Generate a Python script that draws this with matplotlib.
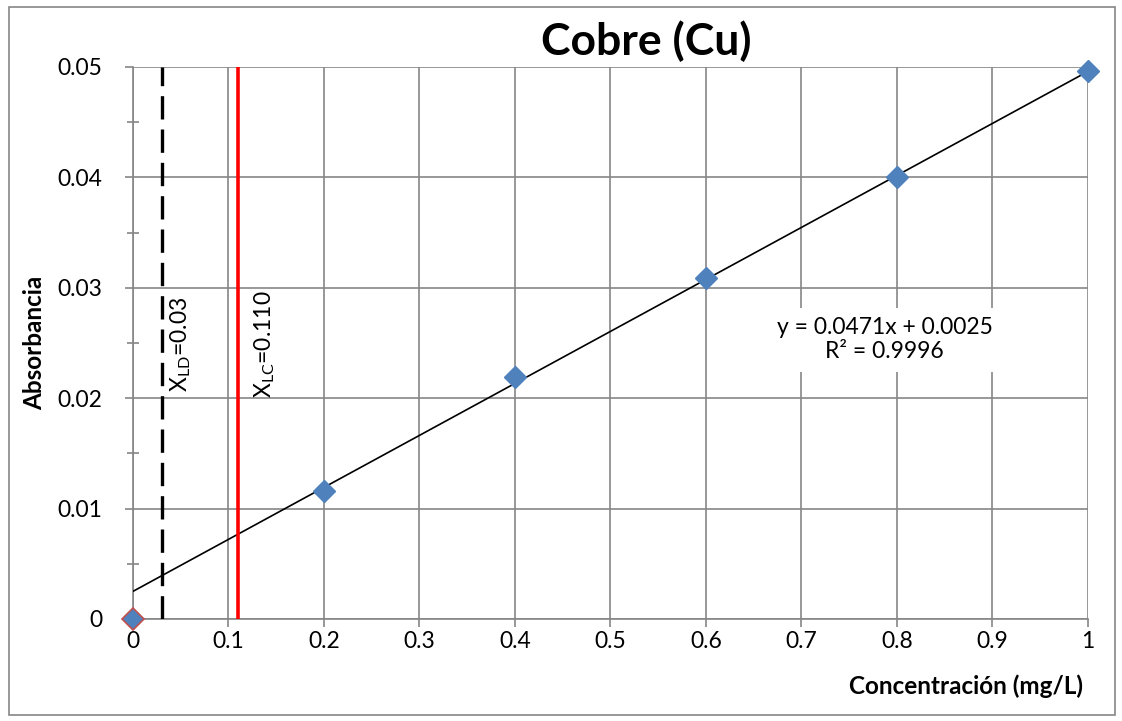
# Curva de calibracion - Cobre (Cu)
import numpy as np
import matplotlib.pyplot as plt
from matplotlib.patches import Rectangle
from matplotlib.ticker import MultipleLocator

plt.rcParams['font.family'] = ['Lato', 'DejaVu Sans']
plt.rcParams['mathtext.fontset'] = 'custom'
plt.rcParams['mathtext.rm'] = 'Lato'

# Datos
conc = [0, 0.2, 0.4, 0.6, 0.8, 1.0]
absorb = [0.0, 0.0116, 0.0219, 0.0309, 0.0400, 0.0496]
slope = 0.0471
intercept = 0.0025
r2 = 0.9996
x_ld = 0.03
x_lc = 0.110

grey = '#868686'
blue = '#4F81BD'

fig = plt.figure(figsize=(11.22, 7.21), dpi=100)
ax = fig.add_axes([0.1185, 0.1415, 0.8512, 0.7656])

# borde exterior
fig.patches.append(Rectangle((0.008, 0.008), 0.986, 0.982, transform=fig.transFigure,
                             fill=False, edgecolor=grey, lw=1.2))

# linea de tendencia
xfit = np.array([0, 1.0])
ax.plot(xfit, slope * xfit + intercept, color='black', lw=1.2, zorder=3)

# limites
ld, = ax.plot([x_ld, x_ld], [0, 0.05], color='black', lw=2.4, zorder=3)
ld.set_dashes((7, 3))
ax.plot([x_lc, x_lc], [0, 0.05], color='red', lw=2.6, zorder=3)

# puntos
ax.plot(conc[1:], absorb[1:], 'D', color=blue, ms=11, zorder=4, clip_on=False)
ax.plot(conc[:1], absorb[:1], 'D', color=blue, mec='#C0504D', mew=1.2, ms=11,
        zorder=4, clip_on=False)

ax.set_xlim(0, 1)
ax.set_ylim(0, 0.05)
ax.yaxis.set_minor_locator(MultipleLocator(0.005))
ax.set_xticks([0, 0.1, 0.2, 0.3, 0.4, 0.5, 0.6, 0.7, 0.8, 0.9, 1])
ax.set_xticklabels(['0', '0.1', '0.2', '0.3', '0.4', '0.5', '0.6', '0.7', '0.8', '0.9', '1'])
ax.set_yticks([0, 0.01, 0.02, 0.03, 0.04, 0.05])
ax.set_yticklabels(['0', '0.01', '0.02', '0.03', '0.04', '0.05'])

ax.grid(True, which='major', color=grey, lw=1.2)
ax.set_axisbelow(True)
for s in ['top', 'right']:
    ax.spines[s].set_visible(False)
for s in ['left', 'bottom']:
    ax.spines[s].set_color(grey)
    ax.spines[s].set_linewidth(1.2)

ax.tick_params(axis='both', which='major', color=grey, width=1.2, length=6,
               labelsize=16.5)
ax.tick_params(axis='y', which='major', pad=16)
ax.tick_params(axis='x', which='major', pad=3)
ax.tick_params(axis='y', which='minor', color=grey, width=1.2, length=8, direction='inout')

fig.text(0.5758, 0.943, 'Cobre (Cu)', fontsize=32, fontweight='bold',
         ha='center', va='center')
fig.text(0.031, 0.524, 'Absorbancia', fontsize=17.5, fontweight='bold',
         rotation=90, ha='center', va='center')
fig.text(0.9652, 0.0485, 'Concentración (mg/L)', fontsize=17.5, fontweight='bold',
         ha='right', va='center')

ax.text(0.0503, 0.0249, r'X$_{\mathrm{LD}}$=0.03', rotation=90, fontsize=16.5,
        ha='center', va='center')
ax.text(0.138, 0.0249, r'X$_{\mathrm{LC}}$=0.110', rotation=90, fontsize=16.5,
        ha='center', va='center')

ax.text(0.787, 0.0253, 'y = %.4fx + %.4f\nR² = %.4f' % (slope, intercept, r2),
        fontsize=16.5, ha='center', va='center', linespacing=1.15,
        bbox=dict(facecolor='white', edgecolor='none', pad=7))

fig.savefig('out.png', dpi=100)
